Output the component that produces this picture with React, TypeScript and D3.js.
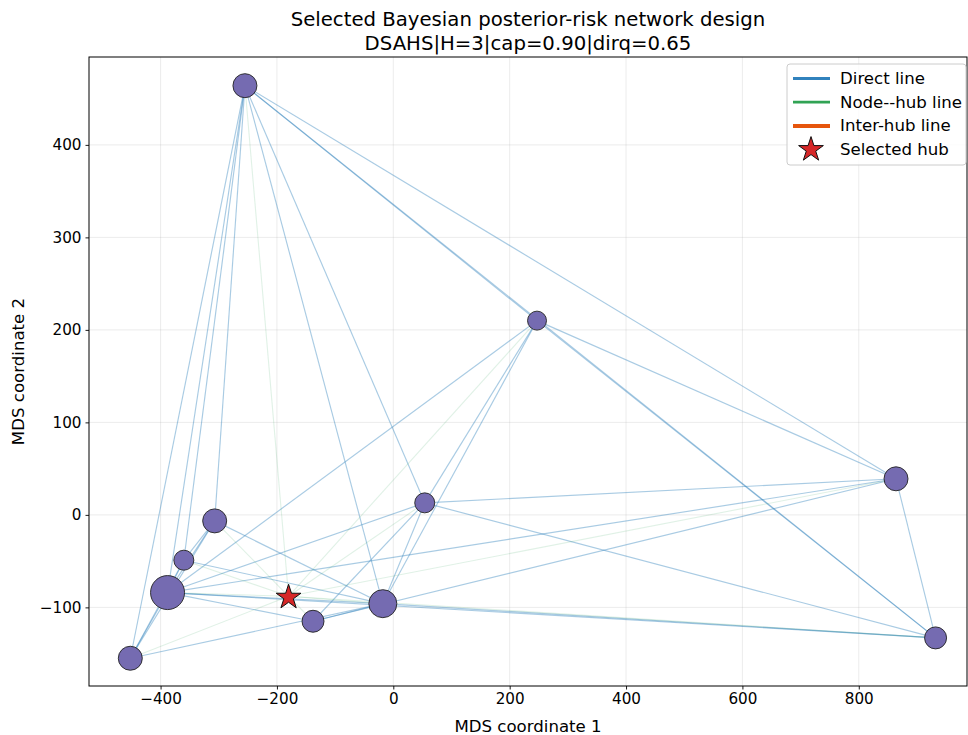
import React, { useEffect, useRef } from 'react';
import * as d3 from 'd3';

// node positions in MDS space
const nodeX = [-255, 247, 864, 932, 54, -307, -360, -388, -452, -138, -18];
const nodeY = [464, 210, 39, -133, 13, -6.5, -49, -84, -155, -115, -96];
// demand weight per node -> marker area
const nodeDemand = [144, 90, 144, 121, 100, 144, 100, 289, 144, 121, 196];

// selected hub
const hubX = [-180];
const hubY = [-88];

// direct lines (node index pairs)
const directFrom = [0, 0, 0, 0, 0, 0, 0, 0, 0, 1, 1, 1, 1, 1, 2, 2, 2, 2, 3, 3, 3, 4, 4, 4, 5, 5, 5, 5, 6, 6, 6, 7, 7, 7, 8, 9];
const directTo = [1, 2, 3, 4, 5, 6, 7, 8, 10, 2, 3, 4, 7, 10, 3, 4, 7, 9, 4, 7, 10, 7, 9, 10, 6, 7, 8, 10, 7, 8, 10, 8, 9, 10, 10, 10];

const xTicks = [-400, -200, 0, 200, 400, 600, 800];
const yTicks = [-100, 0, 100, 200, 300, 400];

const legendLabels = ['Direct line', 'Node--hub line', 'Inter-hub line', 'Selected hub'];

const App = () => {
  const svgRef = useRef<SVGSVGElement>(null);

  useEffect(() => {
    document.body.style.margin = '0';
    const svg = d3.select(svgRef.current);
    svg.selectAll('*').remove();

    const W = 968;
    const H = 735;
    const margin = { top: 57, right: 1, bottom: 49, left: 89 };
    const font = 'DejaVu Sans, sans-serif';

    const x = d3.scaleLinear().domain([-523, 986]).range([margin.left, W - margin.right]);
    const y = d3.scaleLinear().domain([-185, 495]).range([H - margin.bottom, margin.top]);
    const r = d3.scaleSqrt().domain([0, 289]).range([0, 17]);

    svg.attr('width', W).attr('height', H).style('display', 'block').style('background', '#fff');

    // grid
    const grid = svg.append('g');
    grid.selectAll('.gx').data(xTicks).join('line')
      .attr('x1', d => x(d)).attr('x2', d => x(d))
      .attr('y1', margin.top).attr('y2', H - margin.bottom)
      .attr('stroke', '#b0b0b0').attr('stroke-opacity', 0.3).attr('stroke-width', 0.8);
    grid.selectAll('.gy').data(yTicks).join('line')
      .attr('x1', margin.left).attr('x2', W - margin.right)
      .attr('y1', d => y(d)).attr('y2', d => y(d))
      .attr('stroke', '#b0b0b0').attr('stroke-opacity', 0.3).attr('stroke-width', 0.8);

    const plot = svg.append('g');

    // direct lines
    plot.selectAll('.direct').data(directFrom.map((a, i) => [a, directTo[i]])).join('line')
      .attr('x1', d => x(nodeX[d[0]])).attr('y1', d => y(nodeY[d[0]]))
      .attr('x2', d => x(nodeX[d[1]])).attr('y2', d => y(nodeY[d[1]]))
      .attr('stroke', '#3182bd').attr('stroke-opacity', 0.42).attr('stroke-width', 1.15);

    // node -> hub lines
    plot.selectAll('.nh').data(nodeX.map((_, i) => i)).join('line')
      .attr('x1', i => x(nodeX[i])).attr('y1', i => y(nodeY[i]))
      .attr('x2', x(hubX[0])).attr('y2', y(hubY[0]))
      .attr('stroke', '#31a354').attr('stroke-opacity', 0.15).attr('stroke-width', 1.1);

    // nodes
    plot.selectAll('circle').data(nodeX.map((_, i) => i)).join('circle')
      .attr('cx', i => x(nodeX[i])).attr('cy', i => y(nodeY[i]))
      .attr('r', i => r(nodeDemand[i]))
      .attr('fill', '#756bb1').attr('stroke', '#222').attr('stroke-width', 0.9);

    // hub star
    const star = d3.symbol().type(d3.symbolStar).size(190);
    plot.selectAll('.hub').data(hubX.map((_, i) => i)).join('path')
      .attr('d', star)
      .attr('transform', i => `translate(${x(hubX[i])},${y(hubY[i]) + 1})`)
      .attr('fill', '#d62728').attr('stroke', '#111').attr('stroke-width', 1);

    // axes
    const fmt = (d: d3.NumberValue) => d3.format('d')(d as number).replace('-', '\u2212');
    const xAxis = svg.append('g')
      .attr('transform', `translate(0,${H - margin.bottom})`)
      .call(d3.axisBottom(x).tickValues(xTicks).tickSize(3.5).tickPadding(4).tickFormat(fmt));
    const yAxis = svg.append('g')
      .attr('transform', `translate(${margin.left},0)`)
      .call(d3.axisLeft(y).tickValues(yTicks).tickSize(3.5).tickPadding(4).tickFormat(fmt));
    [xAxis, yAxis].forEach(a => {
      a.select('.domain').remove();
      a.selectAll('text').attr('font-family', font).attr('font-size', 15.2).attr('fill', '#000');
      a.selectAll('line').attr('stroke', '#000').attr('stroke-width', 0.9);
    });

    // frame
    svg.append('rect')
      .attr('x', margin.left).attr('y', margin.top)
      .attr('width', W - margin.right - margin.left).attr('height', H - margin.bottom - margin.top)
      .attr('fill', 'none').attr('stroke', '#000').attr('stroke-width', 1);

    const cx = (margin.left + W - margin.right) / 2;
    svg.append('text').attr('x', cx).attr('y', 26).attr('text-anchor', 'middle')
      .attr('font-family', font).attr('font-size', 19.7).text('Selected Bayesian posterior-risk network design');
    svg.append('text').attr('x', cx).attr('y', 50).attr('text-anchor', 'middle')
      .attr('font-family', font).attr('font-size', 19.7).text('DSAHS|H=3|cap=0.90|dirq=0.65');

    svg.append('text').attr('x', cx).attr('y', 732).attr('text-anchor', 'middle')
      .attr('font-family', font).attr('font-size', 16.6).text('MDS coordinate 1');
    svg.append('text')
      .attr('transform', `translate(24,${(margin.top + H - margin.bottom) / 2}) rotate(-90)`)
      .attr('text-anchor', 'middle')
      .attr('font-family', font).attr('font-size', 16.6).text('MDS coordinate 2');

    // legend
    const lg = svg.append('g').attr('transform', 'translate(787,64)');
    lg.append('rect').attr('width', 179).attr('height', 101).attr('rx', 3)
      .attr('fill', '#fff').attr('fill-opacity', 0.8).attr('stroke', '#ccc');
    const handles = [
      { color: '#3182bd', w: 2.8 },
      { color: '#31a354', w: 2.8 },
      { color: '#e6550d', w: 4 },
    ];
    legendLabels.forEach((label, i) => {
      const ly = 14.5 + i * 23.7;
      if (i < 3) {
        lg.append('line').attr('x1', 6).attr('x2', 43).attr('y1', ly).attr('y2', ly)
          .attr('stroke', handles[i].color).attr('stroke-width', handles[i].w);
      } else {
        lg.append('path').attr('d', d3.symbol().type(d3.symbolStar).size(190))
          .attr('transform', `translate(24,${ly})`)
          .attr('fill', '#d62728').attr('stroke', '#111').attr('stroke-width', 1);
      }
      lg.append('text').attr('x', 53).attr('y', ly + 5.5)
        .attr('font-family', font).attr('font-size', 16.6).text(label);
    });
  }, []);

  return <svg ref={svgRef}></svg>;
};

export default App;
